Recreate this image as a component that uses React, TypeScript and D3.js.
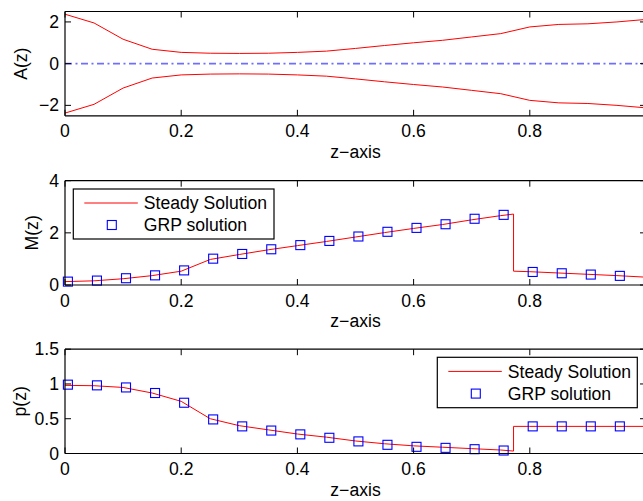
import React from "react";
import * as d3 from "d3";

// ---------- data ----------
const zGrid = [0, 0.05, 0.1, 0.15, 0.2, 0.25, 0.3, 0.35, 0.4, 0.45, 0.5, 0.55, 0.6, 0.65, 0.7, 0.75, 0.8, 0.85, 0.9, 0.95, 1.0];
const aUpper = [2.37, 1.95, 1.17, 0.69, 0.54, 0.5, 0.49, 0.5, 0.54, 0.6, 0.73, 0.87, 1.0, 1.12, 1.28, 1.44, 1.76, 1.88, 1.91, 2.0, 2.12];
const aLower = [-2.37, -1.95, -1.17, -0.69, -0.54, -0.5, -0.49, -0.5, -0.54, -0.6, -0.73, -0.87, -1.0, -1.12, -1.28, -1.44, -1.76, -1.88, -1.91, -2.0, -2.12];

const steadyZ = [0, 0.05, 0.1, 0.15, 0.2, 0.25, 0.3, 0.35, 0.4, 0.45, 0.5, 0.55, 0.6, 0.65, 0.7, 0.75, 0.772, 0.772, 0.8, 0.85, 0.9, 0.95, 1.0];
const steadyM = [0.13, 0.16, 0.24, 0.36, 0.53, 0.98, 1.17, 1.35, 1.51, 1.67, 1.84, 2.01, 2.17, 2.32, 2.5, 2.66, 2.72, 0.53, 0.51, 0.46, 0.41, 0.36, 0.3];
const steadyP = [0.98, 0.975, 0.95, 0.87, 0.75, 0.5, 0.4, 0.34, 0.28, 0.235, 0.18, 0.14, 0.11, 0.09, 0.07, 0.05, 0.035, 0.39, 0.39, 0.39, 0.39, 0.39, 0.39];

const grpZ = [0.005, 0.055, 0.105, 0.155, 0.205, 0.255, 0.305, 0.355, 0.405, 0.455, 0.505, 0.555, 0.605, 0.655, 0.705, 0.755, 0.805, 0.855, 0.905, 0.955, 1.005];
const grpM = [0.13, 0.17, 0.26, 0.37, 0.56, 1.01, 1.19, 1.37, 1.53, 1.69, 1.86, 2.04, 2.19, 2.33, 2.54, 2.69, 0.5, 0.45, 0.4, 0.35, 0.3];
const grpP = [0.99, 0.98, 0.95, 0.87, 0.73, 0.49, 0.39, 0.33, 0.275, 0.226, 0.174, 0.125, 0.096, 0.081, 0.062, 0.043, 0.39, 0.39, 0.39, 0.39, 0.39];

const xTicks = [0, 0.2, 0.4, 0.6, 0.8, 1];
const xTickLabels = ["0", "0.2", "0.4", "0.6", "0.8", ""];
const aTicks = [-2, 0, 2];
const aTickLabels = ["\u22122", "0", "2"];
const mTicks = [0, 2, 4];
const mTickLabels = ["0", "2", "4"];
const pTicks = [0, 0.5, 1, 1.5];
const pTickLabels = ["0", "0.5", "1", "1.5"];
const legendLabels = ["Steady Solution", "GRP solution"];

// ---------- layout ----------
const W = 643;
const H = 501;
const X0 = 65;
const X1 = 646;
const FONT = "'Liberation Sans', Arial, Helvetica, sans-serif";
const FS = 17.6;
const TICK = 6;

const x = d3.scaleLinear().domain([0, 1]).range([X0, X1]);

type PanelProps = {
  top: number;
  bottom: number;
  domain: [number, number];
  ticks: number[];
  tickLabels: string[];
  ylabel: string;
  ylabelX: number;
  children: (y: d3.ScaleLinear<number, number>) => React.ReactNode;
};

function Panel({ top, bottom, domain, ticks, tickLabels, ylabel, ylabelX, children }: PanelProps) {
  const y = d3.scaleLinear().domain(domain).range([bottom, top]);
  const cy = (top + bottom) / 2;
  return (
    <g>
      {children(y)}
      <line x1={X0} x2={X1} y1={bottom} y2={bottom} stroke="#000" strokeWidth={1.2} />
      <line x1={X0} x2={X1} y1={top} y2={top} stroke="#000" strokeWidth={1.2} />
      <line x1={X0} x2={X0} y1={top} y2={bottom} stroke="#000" strokeWidth={1.2} />
      <line x1={X1} x2={X1} y1={top} y2={bottom} stroke="#000" strokeWidth={1.2} />
      {xTicks.map((t, i) => (
        <g key={"x" + i}>
          <line x1={x(t)} x2={x(t)} y1={bottom} y2={bottom - TICK} stroke="#000" strokeWidth={1} />
          <line x1={x(t)} x2={x(t)} y1={top} y2={top + TICK} stroke="#000" strokeWidth={1} />
          {xTickLabels[i] ? (
            <text x={x(t)} y={bottom + 21.5} textAnchor="middle" fontFamily={FONT} fontSize={FS} fill="#000">
              {xTickLabels[i]}
            </text>
          ) : null}
        </g>
      ))}
      {ticks.map((t, i) => (
        <g key={"y" + i}>
          <line x1={X0} x2={X0 + TICK} y1={y(t)} y2={y(t)} stroke="#000" strokeWidth={1} />
          <line x1={X1} x2={X1 - TICK} y1={y(t)} y2={y(t)} stroke="#000" strokeWidth={1} />
          <text x={X0 - 6} y={y(t) + 6} textAnchor="end" fontFamily={FONT} fontSize={FS} fill="#000">
            {tickLabels[i]}
          </text>
        </g>
      ))}
      <text
        transform={`translate(${ylabelX},${cy}) rotate(-90)`}
        textAnchor="middle"
        dy="0.35em"
        fontFamily={FONT}
        fontSize={FS}
        fill="#000"
      >
        {ylabel}
      </text>
      <text x={(X0 + X1) / 2} y={bottom + 42} textAnchor="middle" fontFamily={FONT} fontSize={FS} fill="#000">
        z{"\u2212"}axis
      </text>
    </g>
  );
}

function Squares({ zs, vs, y }: { zs: number[]; vs: number[]; y: d3.ScaleLinear<number, number> }) {
  const s = 9;
  return (
    <g>
      {zs.map((z, i) => (
        <rect
          key={i}
          x={x(z) - s / 2}
          y={y(vs[i]) - s / 2}
          width={s}
          height={s}
          fill="none"
          stroke="#0000ff"
          strokeWidth={1.1}
        />
      ))}
    </g>
  );
}

function Legend({ x0, y0, w, h }: { x0: number; y0: number; w: number; h: number }) {
  const r1 = y0 + h * 0.28;
  const r2 = y0 + h * 0.72;
  return (
    <g>
      <rect x={x0} y={y0} width={w} height={h} fill="#fff" stroke="#000" strokeWidth={1.2} />
      <line x1={x0 + 11} x2={x0 + 64.5} y1={r1} y2={r1} stroke="#ff0000" strokeWidth={1} />
      <rect x={x0 + 38.5 - 4.5} y={r2 - 4.5} width={9} height={9} fill="none" stroke="#0000ff" strokeWidth={1.1} />
      <text x={x0 + 70.5} y={r1} dy="0.35em" fontFamily={FONT} fontSize={FS} fill="#000">
        {legendLabels[0]}
      </text>
      <text x={x0 + 70.5} y={r2} dy="0.35em" fontFamily={FONT} fontSize={FS} fill="#000">
        {legendLabels[1]}
      </text>
    </g>
  );
}

export default function App() {
  return (
    <svg
      width={W}
      height={H}
      viewBox={`0 0 ${W} ${H}`}
      style={{ position: "absolute", left: 0, top: 0, background: "#fff" }}
    >
      <rect x={0} y={0} width={W} height={H} fill="#fff" />
      <Panel top={11.5} bottom={115.8} domain={[-2.5, 2.5]} ticks={aTicks} tickLabels={aTickLabels} ylabel="A(z)" ylabelX={21}>
        {(y) => {
          const line = d3.line<number>().x((_, i) => x(zGrid[i])).y((d) => y(d));
          return (
            <g>
              <line x1={X0} x2={X1} y1={y(0)} y2={y(0)} stroke="#6f6fff" strokeWidth={1.7} strokeDasharray="7,3.5,2,3.5" />
              <path d={line(aUpper) || ""} fill="none" stroke="#ff0000" strokeWidth={1} />
              <path d={line(aLower) || ""} fill="none" stroke="#ff0000" strokeWidth={1} />
            </g>
          );
        }}
      </Panel>
      <Panel top={180.7} bottom={285} domain={[0, 4]} ticks={mTicks} tickLabels={mTickLabels} ylabel="M(z)" ylabelX={31.5}>
        {(y) => {
          const line = d3.line<number>().x((_, i) => x(steadyZ[i])).y((d) => y(d));
          return (
            <g>
              <path d={line(steadyM) || ""} fill="none" stroke="#ff0000" strokeWidth={1} />
              <Squares zs={grpZ} vs={grpM} y={y} />
              <Legend x0={73.3} y0={189} w={200.7} h={50} />
            </g>
          );
        }}
      </Panel>
      <Panel top={349.2} bottom={453.5} domain={[0, 1.5]} ticks={pTicks} tickLabels={pTickLabels} ylabel="p(z)" ylabelX={20}>
        {(y) => {
          const line = d3.line<number>().x((_, i) => x(steadyZ[i])).y((d) => y(d));
          return (
            <g>
              <path d={line(steadyP) || ""} fill="none" stroke="#ff0000" strokeWidth={1} />
              <Squares zs={grpZ} vs={grpP} y={y} />
              <Legend x0={437.3} y0={357.3} w={200} h={50.4} />
            </g>
          );
        }}
      </Panel>
    </svg>
  );
}
